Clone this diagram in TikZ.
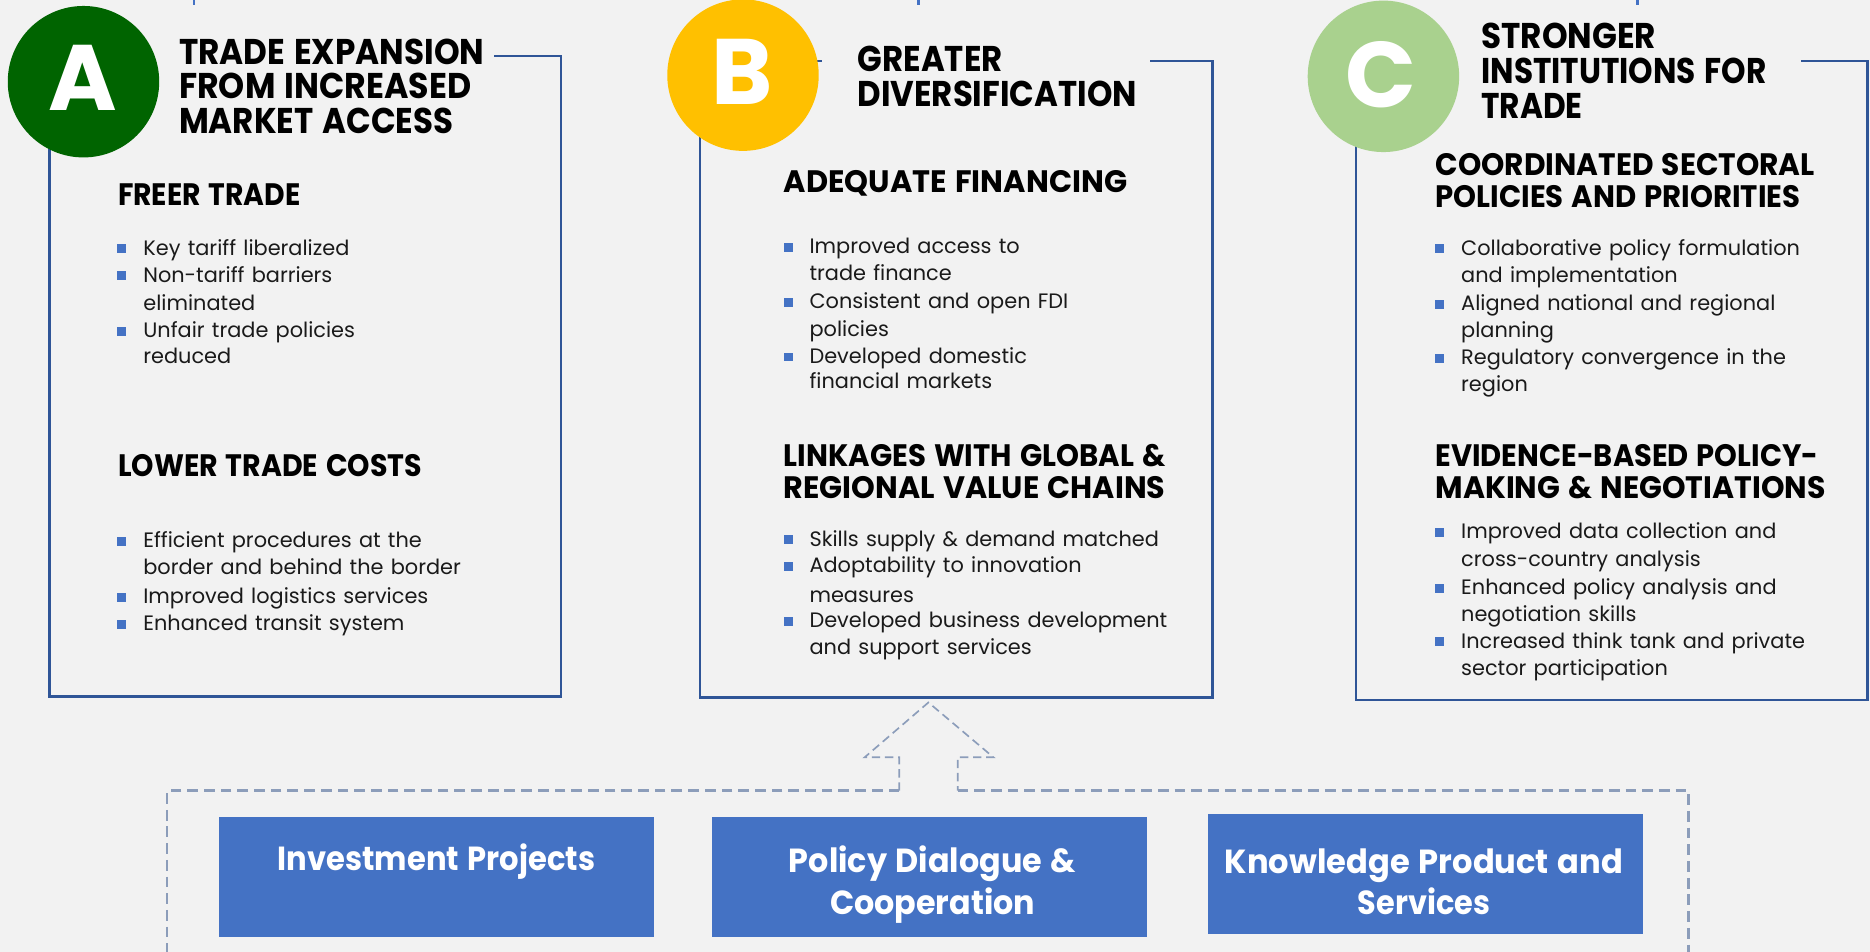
\documentclass[tikz,border=0pt]{standalone}
\usepackage{fontspec}
\usepackage{graphicx}
\setmainfont{Poppins}
\newfontfamily\headfont{Poppins}
\newfontfamily\bodyfont[WordSpace=1.3]{Poppins}
\definecolor{bgc}{HTML}{F2F2F2}
\definecolor{boxc}{HTML}{2F5597}
\definecolor{bulc}{HTML}{4472C4}
\definecolor{pbc}{HTML}{4472C4}
\definecolor{dashc}{HTML}{8C9DBA}
\definecolor{tickc}{HTML}{4472C4}
\definecolor{cA}{HTML}{006400}
\definecolor{cB}{HTML}{FFC000}
\definecolor{cC}{HTML}{A9D18E}
\definecolor{txt}{HTML}{1A1A1A}
\newcommand\hw[2]{\resizebox{#1pt}{\height}{#2}}
\newcommand\bul[4]{%
  \fill[bullet] (#2-21.5,#3-1.5) rectangle ++(7.5,-7.5);
  \node[bd] (#1) at (#2,#3) {#4};}
\tikzset{
  ttl/.style={anchor=base west, inner sep=0, text=black, font=\headfont\bfseries\fontsize{30}{30}\selectfont},
  hd/.style={anchor=base west, inner sep=0, text=black, font=\headfont\bfseries\fontsize{26}{26}\selectfont},
  bd/.style={anchor=base west, inner sep=0, text=txt, font=\bodyfont\fontsize{17.5}{17.5}\selectfont},
  lbl/.style={anchor=base, inner sep=0, text=white, font=\headfont\bfseries\fontsize{28}{28}\selectfont},
  circ/.style={circle, minimum size=127, inner sep=0, draw=none},
  letter/.style={anchor=base, inner sep=0, text=white, font=\headfont\bfseries\fontsize{78}{78}\selectfont},
  boxline/.style={draw=boxc, line width=2.2},
  bullet/.style={fill=bulc},
  pbox/.style={fill=pbc, draw=none},
  outerdash/.style={draw=dashc, line width=2.4, dash pattern=on 9 off 5},
  arrowdash/.style={draw=dashc, line width=1.4, dash pattern=on 7 off 4},
  tick/.style={draw=tickc, line width=2}
}
\begin{document}
\begin{tikzpicture}[x=1pt,y=-1pt]
\useasboundingbox (0,0) rectangle (1568,798.2);
\fill[bgc] (0,0) rectangle (1568,798.2);
% top ticks
\draw[tick] (162.5,0) -- (162.5,4);
\draw[tick] (770,0) -- (770,4);
\draw[tick] (1373,0) -- (1373,4);
% box outlines
\draw[boxline] (128,47) -- (41.4,47) -- (41.4,584) -- (470.5,584) -- (470.5,47) -- (414,47);
\draw[boxline] (689,51) -- (587,51) -- (587,585) -- (1016.5,585) -- (1016.5,51) -- (964,51);
\draw[boxline] (1220,51) -- (1137,51) -- (1137,587) -- (1566,587) -- (1566,51) -- (1510,51);
% circles
\node[circ, fill=cA] (cirA) at (70,68.5) {};
\node[circ, fill=cB] (cirB) at (623,63) {};
\node[circ, fill=cC] (cirC) at (1160,64) {};
\node[letter] (lA) at (69,93) {A};
\node[letter] (lB) at (622.5,88) {B};
\node[letter] (lC) at (1158,90) {C};
% titles
\node[ttl] (tA1) at (150,54.5) {\hw{256}{TRADE EXPANSION}};
\node[ttl] (tA2) at (150,83) {\hw{245}{FROM INCREASED}};
\node[ttl] (tA3) at (150,112) {\hw{230}{MARKET ACCESS}};
\node[ttl] (tB1) at (719,60) {\hw{121.5}{GREATER}};
\node[ttl] (tB2) at (719,89) {\hw{234}{DIVERSIFICATION}};
\node[ttl] (tC1) at (1242,41) {\hw{146.5}{STRONGER}};
\node[ttl] (tC2) at (1242,70) {\hw{239}{INSTITUTIONS FOR}};
\node[ttl] (tC3) at (1242,99) {\hw{85}{TRADE}};
% column A
\node[hd] (ah1) at (98.8,172) {\hw{153}{FREER TRADE}};
\bul{a1}{120}{214}{Key tariff liberalized}
\bul{a2}{120}{236.6}{Non-tariff barriers}
\node[bd] (a2b) at (120,260.5) {eliminated};
\bul{a3}{120}{283}{Unfair trade policies}
\node[bd] (a3b) at (120,305) {reduced};
\node[hd] (ah2) at (98.8,399.8) {\hw{255}{LOWER TRADE COSTS}};
\bul{a4}{120}{459}{Efficient procedures at the}
\node[bd] (a4b) at (120,482) {border and behind the border};
\bul{a5}{120}{506}{Improved logistics services}
\bul{a6}{120}{529}{Enhanced transit system}
% column B
\node[hd] (bh1) at (657,161.7) {\hw{288}{ADEQUATE FINANCING}};
\bul{b1}{678.6}{212.6}{Improved access to}
\node[bd] (b1b) at (678.6,235) {trade finance};
\bul{b2}{678.6}{259}{Consistent and open FDI}
\node[bd] (b2b) at (678.6,282) {policies};
\bul{b3}{678.6}{304.6}{Developed domestic}
\node[bd] (b3b) at (678.6,326) {financial markets};
\node[hd] (bh2) at (657,391) {\hw{320}{LINKAGES WITH GLOBAL \&}};
\node[hd] (bh3) at (657,417.7) {\hw{320}{REGIONAL VALUE CHAINS}};
\bul{b4}{678.6}{458}{Skills supply \& demand matched}
\bul{b5}{678.6}{480}{Adoptability to innovation}
\node[bd] (b5b) at (678.6,505) {measures};
\bul{b6}{678.6}{526.5}{Developed business development}
\node[bd] (b6b) at (678.6,549) {and support services};
% column C
\node[hd] (ch1) at (1203.5,147.3) {\hw{318}{COORDINATED SECTORAL}};
\node[hd] (ch2) at (1203.5,173.7) {\hw{306}{POLICIES AND PRIORITIES}};
\bul{c1}{1225}{214}{Collaborative policy formulation}
\node[bd] (c1b) at (1225,236.6) {and implementation};
\bul{c2}{1225}{260.5}{Aligned national and regional}
\node[bd] (c2b) at (1225,283) {planning};
\bul{c3}{1225}{306}{Regulatory convergence in the}
\node[bd] (c3b) at (1225,328) {region};
\node[hd] (ch3) at (1203.5,391) {\hw{321}{EVIDENCE-BASED POLICY-}};
\node[hd] (ch4) at (1203.5,417.7) {\hw{327}{MAKING \& NEGOTIATIONS}};
\bul{c4}{1225}{451.6}{Improved data collection and}
\node[bd] (c4b) at (1225,474.6) {cross-country analysis};
\bul{c5}{1225}{498.6}{Enhanced policy analysis and}
\node[bd] (c5b) at (1225,521) {negotiation skills};
\bul{c6}{1225}{543.5}{Increased think tank and private}
\node[bd] (c6b) at (1225,566) {sector participation};
% bottom dashed frame and arrow
\coordinate (fl) at (140,800);
\coordinate (fr) at (1416,800);
\draw[outerdash] (754,663) -- (140,663) -- (fl);
\draw[outerdash] (803,663) -- (1416,663) -- (fr);
\draw[arrowdash] (754,663) -- (754,635) -- (725,635) -- (778.5,589) -- (833,635) -- (803,635) -- (803,663);
% program boxes
\fill[pbox] (184,685) rectangle (548,785.5);
\fill[pbox] (597,685) rectangle (962,785.5);
\fill[pbox] (1013,682.6) rectangle (1377.5,783);
\node[lbl] (p1) at (366,730) {\hw{266}{Investment Projects}};
\node[lbl] (p2a) at (782,732) {\hw{241}{Policy Dialogue \&}};
\node[lbl] (p2b) at (782,767) {\hw{172}{Cooperation}};
\node[lbl] (p3a) at (1194,732) {\hw{334}{Knowledge Product and}};
\node[lbl] (p3b) at (1194,767) {\hw{111}{Services}};
\end{tikzpicture}
\end{document}
